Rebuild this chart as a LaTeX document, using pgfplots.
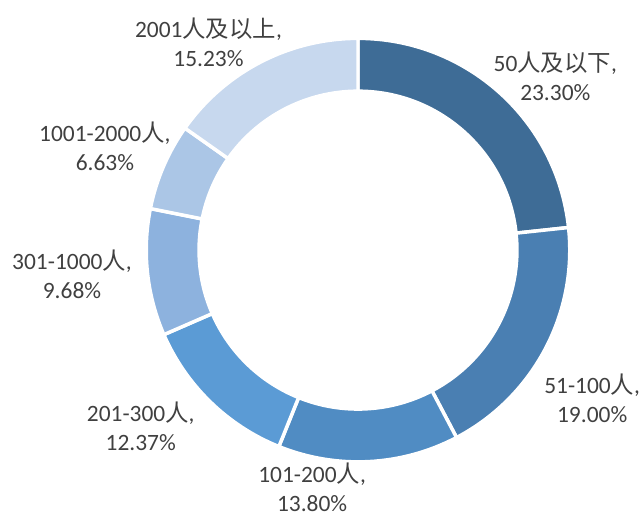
\documentclass[border=0pt]{standalone}
\usepackage{pgfplots}
\usepackage{pgfplotstable}
\pgfplotsset{compat=1.18}
\usepackage{fontspec}
\setmainfont{Carlito}
\newfontfamily\cjk{Noto Sans CJK SC}
\newcommand\C[1]{{\cjk #1}}

\definecolor{c0}{RGB}{62,108,150}
\definecolor{c1}{RGB}{74,127,178}
\definecolor{c2}{RGB}{80,140,195}
\definecolor{c3}{RGB}{91,155,213}
\definecolor{c4}{RGB}{141,178,222}
\definecolor{c5}{RGB}{171,198,230}
\definecolor{c6}{RGB}{199,216,238}
\definecolor{txt}{RGB}{64,64,64}

\pgfplotstableread{
idx value
0 23.30
1 19.00
2 13.80
3 12.37
4 9.68
5 6.63
6 15.23
}\piedata

\newcommand\total{100.01}
\newcommand\Ro{212.5bp}
\newcommand\Ri{159.5bp}
\newcommand\slice[2]{%
  \filldraw[fill=#2,draw=white,line width=3.5bp,line join=miter]
    ([shift={(\csname sa#1\endcsname:\Ro)}]axis cs:357,251)
    arc[start angle=\csname sa#1\endcsname, end angle=\csname ea#1\endcsname, radius=\Ro]
    -- ([shift={(\csname ea#1\endcsname:\Ri)}]axis cs:357,251)
    arc[start angle=\csname ea#1\endcsname, end angle=\csname sa#1\endcsname, radius=\Ri]
    -- cycle;}

\begin{document}
\gdef\cumul{0}
\foreach \i in {0,...,6}{%
  \pgfplotstablegetelem{\i}{value}\of\piedata
  \pgfmathsetmacro\s{90-(\cumul/\total)*360}%
  \pgfmathsetmacro\newc{\cumul+\pgfplotsretval}%
  \pgfmathsetmacro\e{90-(\newc/\total)*360}%
  \expandafter\xdef\csname sa\i\endcsname{\s}%
  \expandafter\xdef\csname ea\i\endcsname{\e}%
  \xdef\cumul{\newc}%
}%
\begin{tikzpicture}
\begin{axis}[
  scale only axis, width=643bp, height=520bp,
  xmin=0, xmax=643, ymin=0, ymax=520, y dir=reverse,
  enlargelimits=false, hide axis, clip=false,
]
\path (axis cs:0,0) rectangle (axis cs:643,520);
\slice{0}{c0}
\slice{1}{c1}
\slice{2}{c2}
\slice{3}{c3}
\slice{4}{c4}
\slice{5}{c5}
\slice{6}{c6}
\tikzset{lbl/.style={align=center, text=txt, font=\fontsize{23.5bp}{29bp}\selectfont, inner sep=0pt}}
\node[lbl] at (axis cs:555,77) {50\C{人及以下},\\23.30\%};
\node[lbl] at (axis cs:592,400) {51-100\C{人},\\19.00\%};
\node[lbl] at (axis cs:311,489) {101-200\C{人},\\13.80\%};
\node[lbl] at (axis cs:139,428) {201-300\C{人},\\12.37\%};
\node[lbl] at (axis cs:70,275) {301-1000\C{人},\\9.68\%};
\node[lbl] at (axis cs:103,147) {1001-2000\C{人},\\6.63\%};
\node[lbl] at (axis cs:207,42) {2001\C{人及以上},\\15.23\%};
\end{axis}
\end{tikzpicture}
\end{document}
